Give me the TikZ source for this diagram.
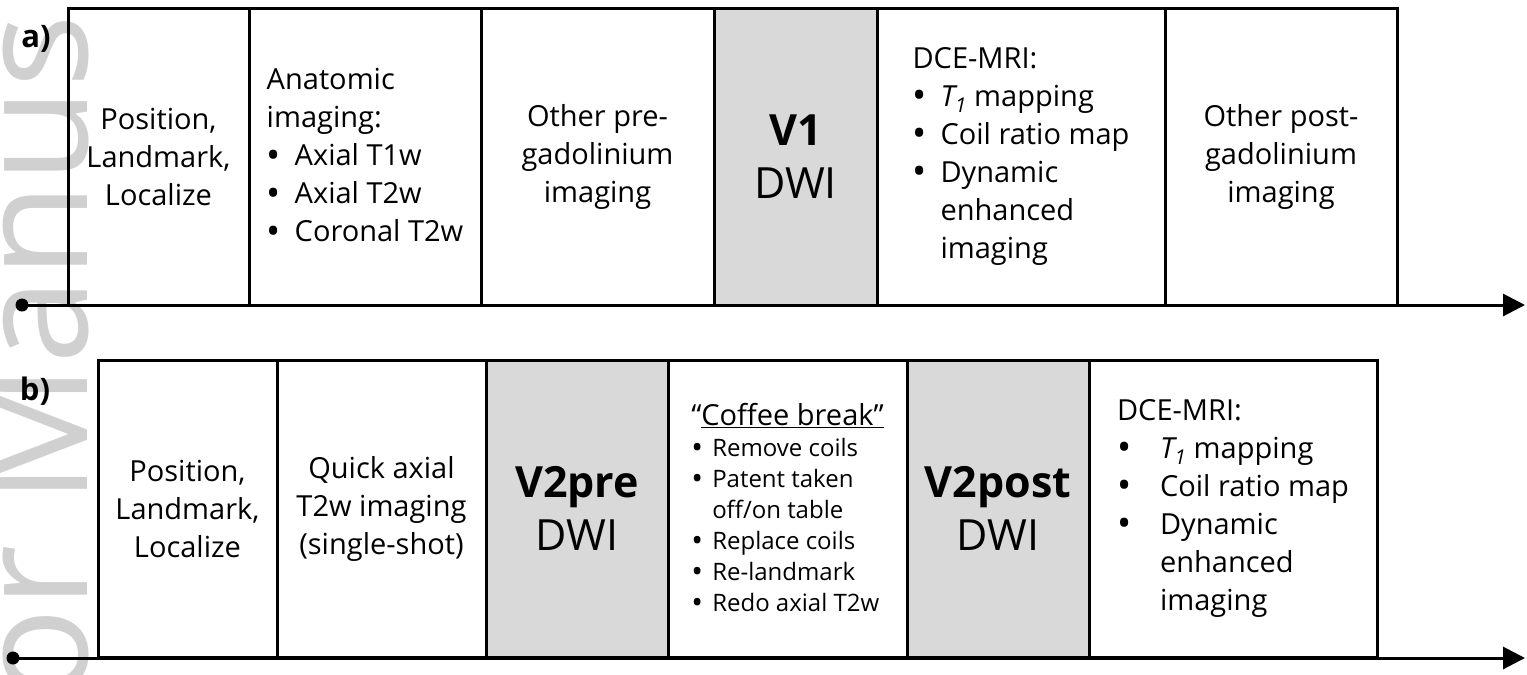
\documentclass[tikz,border=0pt]{standalone}
\usepackage{fontspec}
\setmainfont{Open Sans}
\usetikzlibrary{arrows.meta,positioning}

\definecolor{dwigray}{HTML}{D9D9D9}
\definecolor{markgray}{HTML}{D0D0D0}
% bullet with a fixed indent
\newcommand{\bul}[1][28pt]{\makebox[#1][l]{\raisebox{-0.15ex}{\scalebox{1.3}{\textbullet}}}}

\begin{document}
\begin{tikzpicture}[
      x=1pt,y=-1pt,
      stage/.style={
         rectangle,
         draw=black,
         line width=3pt,
         outer sep=0pt,
         inner sep=0pt,
         minimum height=297pt,
         align=center,
         font=\fontsize{29}{38}\selectfont
      },
      dwi/.style={
         stage,
         fill=dwigray,
         font=\fontsize{43}{53}\selectfont
      },
      list/.style={stage, align=left},
      start/.style={circle, fill=black, inner sep=0pt, minimum size=13pt},
      timeline/.style={line width=3pt, -{Triangle[length=22pt,width=22pt]}},
      panel/.style={font=\bfseries\fontsize{31}{38}\selectfont}
    ]
    \useasboundingbox (0,0) rectangle (1527,675);
    % watermark
    \node[rotate=90, anchor=base west, inner sep=0pt, text=markgray,
          font=\fontsize{155}{155}\selectfont] (mark) at (87,702) {or Manus};

    % a) single visit
    \node[panel] (la) at (36,39) {a)};
    \node[stage, minimum width=181pt, anchor=north west] (a1) at (68,8) {Position,\\Landmark,\\Localize};
    \node[list, minimum width=232pt, right=0pt of a1] (a2) {Anatomic\\imaging:\\\bul Axial T1w\\\bul Axial T2w\\\bul Coronal T2w};
    \node[stage, minimum width=233pt, right=0pt of a2] (a3) {Other pre-\\gadolinium\\imaging};
    \node[dwi, minimum width=163pt, right=0pt of a3] (a4) {\textbf{V1}\\DWI};
    \node[list, minimum width=288pt, right=0pt of a4] (a5) {DCE-MRI:\\\bul\textit{T\textsubscript{1}} mapping\\\bul Coil ratio map\\\bul Dynamic\\\hspace*{28pt}enhanced\\\hspace*{28pt}imaging};
    \node[stage, minimum width=232pt, right=0pt of a5] (a6) {Other post-\\gadolinium\\imaging};

    \node[start] (sa) at (22,305) {};
    \coordinate (ea) at (1525,305);
    \draw[timeline] (sa.center) -- (ea);

    % b) repeat visit
    \node[panel] (lb) at (35,391) {b)};
    \node[stage, minimum width=179pt, anchor=north west] (b1) at (98,360) {Position,\\Landmark,\\Localize};
    \node[stage, minimum width=209pt, right=0pt of b1] (b2) {Quick axial\\T2w imaging\\(single-shot)};
    \node[dwi, minimum width=182pt, right=0pt of b2] (b3) {\textbf{V2pre}\\DWI};
    \node[list, minimum width=239pt, right=0pt of b3, font=\fontsize{24}{31}\selectfont] (b4) {{\fontsize{29}{31}\selectfont “\underline{Coffee break”}}\\\bul[21pt]Remove coils\\\bul[21pt]Patent taken\\\hspace*{21pt}off/on table\\\bul[21pt]Replace coils\\\bul[21pt]Re-landmark\\\bul[21pt]Redo axial T2w};
    \node[dwi, minimum width=182pt, right=0pt of b4] (b5) {\textbf{V2post}\\DWI};
    \node[list, minimum width=288pt, right=0pt of b5] (b6) {DCE-MRI:\\\bul[43pt]\textit{T\textsubscript{1}} mapping\\\bul[43pt]Coil ratio map\\\bul[43pt]Dynamic\\\hspace*{43pt}enhanced\\\hspace*{43pt}imaging};

    \node[start] (sb) at (13,658) {};
    \coordinate (eb) at (1525,658);
    \draw[timeline] (sb.center) -- (eb);
\end{tikzpicture}
\end{document}
